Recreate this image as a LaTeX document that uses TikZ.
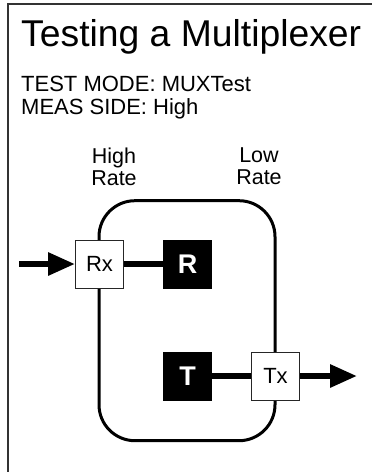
\documentclass[tikz,border=0pt]{standalone}
\usepackage{fontspec}
\setmainfont{Liberation Sans}
\usetikzlibrary{arrows.meta}
\tikzset{
  frameline/.style={line width=1.5pt, draw=black!80},
  port/.style={draw=black!85, line width=1pt, fill=white, minimum size=48pt, inner sep=0pt, font=\fontsize{22}{24}\selectfont},
  blk/.style={draw=black, fill=black, text=white, minimum size=48pt, inner sep=0pt, font=\bfseries\fontsize{27}{28}\selectfont},
  wire/.style={line width=6pt, draw=black},
  flow/.style={line width=6pt, draw=black, -{Triangle[length=27pt,width=22pt]}},
  lbl/.style={inner sep=0pt, align=center, font=\fontsize{21.5}{22}\selectfont},
}
\begin{document}
\begin{tikzpicture}[x=1pt,y=-1pt]
\useasboundingbox (0,0) rectangle (372,472);
% frame (only left and top visible)
\draw[frameline] (8,472) -- (8,4) -- (372,4);
% title and info
\node[anchor=base west, inner sep=0pt, font=\fontsize{37.3}{40}\selectfont] (title) at (21,46.7) {Testing a Multiplexer};
\node[anchor=north west, inner sep=0pt, align=left, font=\fontsize{22}{23.3}\selectfont] (info) at (21,75.5) {TEST MODE: MUXTest\\MEAS SIDE: High};
% rate labels
\node[lbl, anchor=north] (hi) at (114,147.3) {High\\Rate};
\node[lbl, anchor=north] (lo) at (259,147.3) {Low\\Rate};
% multiplexer body
\draw[line width=3pt, rounded corners=36pt] (99,200.7) rectangle (275,440.7);
% blocks
\node[port] (rx) at (99.5,264) {Rx};
\node[blk] (r) at (187.5,264) {R};
\node[blk] (t) at (187.5,376) {T};
\node[port] (tx) at (275.5,376) {Tx};
\coordinate (in) at (19,264);
\coordinate (out) at (357,376);
\draw[flow] (in) -- (rx.west);
\draw[wire] (rx.east) -- (r.west);
\draw[wire] (t.east) -- (tx.west);
\draw[flow] (tx.east) -- (out);
\end{tikzpicture}
\end{document}
